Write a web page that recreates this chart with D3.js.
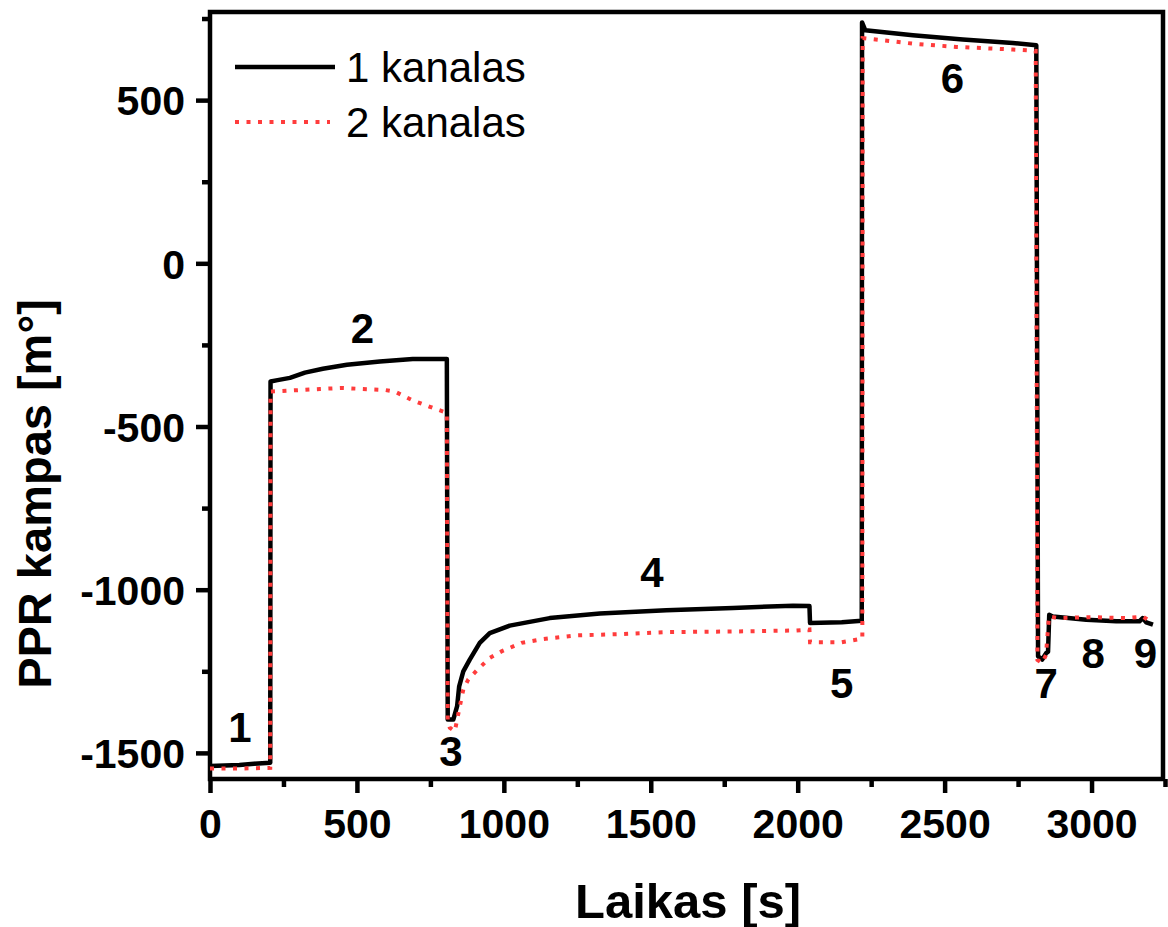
<!DOCTYPE html>
<html>
<head>
<meta charset="utf-8">
<script src="https://cdn.jsdelivr.net/npm/d3@7"></script>
<style>
  html, body { margin: 0; padding: 0; background: #fff; }
  svg { display: block; font-family: "Liberation Sans", Arial, sans-serif; }
</style>
</head>
<body>
<svg id="chart" width="1168" height="927"></svg>
<script>
// ---- Data ----
const seriesNames = ["1 kanalas", "2 kanalas"];

const time1 = [0, 100, 150, 205, 206, 230, 272, 323, 384, 466, 578, 690, 806,
  809, 828, 841, 848, 862, 884, 918, 952, 1020, 1156, 1327, 1553, 1780, 1984, 2040,
  2042, 2150, 2218, 2219, 2230, 2392, 2562, 2732, 2812,
  2818, 2832, 2845, 2852, 2856, 2868, 2982, 3084, 3163, 3174, 3186, 3209];
const value1 = [-1540, -1537, -1533, -1530, -362, -358, -351, -335, -323, -311, -301, -293, -293,
  -1398, -1398, -1357, -1296, -1250, -1214, -1163, -1133, -1110, -1087, -1073, -1063, -1056, -1049, -1050,
  -1102, -1100, -1095, 738, 714, 699, 686, 675, 668,
  -1204, -1214, -1195, -1190, -1077, -1082, -1092, -1097, -1097, -1087, -1100, -1107];

const time2 = [0, 100, 205, 206, 270, 374, 449, 520, 595, 629, 690, 758, 806,
  809, 816, 833, 848, 862, 879, 907, 952, 992, 1060, 1134, 1247, 1395, 1553, 1780, 1996, 2040,
  2042, 2150, 2220, 2221, 2392, 2540, 2732, 2810,
  2816, 2832, 2845, 2855, 2888, 2998, 3115, 3160, 3174, 3200];
const value2 = [-1548, -1548, -1546, -393, -390, -385, -382, -385, -388, -393, -420, -443, -458,
  -1403, -1423, -1434, -1367, -1306, -1275, -1248, -1209, -1189, -1163, -1151, -1140, -1136, -1130, -1128, -1125, -1122,
  -1161, -1161, -1150, 690, 673, 663, 655, 651,
  -1215, -1225, -1200, -1082, -1087, -1084, -1087, -1084, -1082, -1097];

const xTicks = [0, 500, 1000, 1500, 2000, 2500, 3000];
const xMinorTicks = [250, 750, 1250, 1750, 2250, 2750, 3250];
const yTicks = [-1500, -1000, -500, 0, 500];
const yMinorTicks = [-1250, -750, -250, 250, 750];

const stageLabels = ["1", "2", "3", "4", "5", "6", "7", "8", "9"];
const stageTime = [102, 519, 820, 1504, 2150, 2527, 2846, 3006, 3183];
const stageValue = [-1466, -245, -1539, -991, -1331, 522, -1331, -1239, -1239];

const xTitle = "Laikas [s]";
const yTitle = "PPR kampas [m°]";

// ---- Layout ----
const svg = d3.select("#chart");
const mLeft = 210, mRight = 1165, mTop = 12, mBottom = 779;
const fmt = d => String(d);   // plain hyphen-minus like the reference

const x = d3.scaleLinear().domain([0, 3250]).range([mLeft, mRight]);
const y = d3.scaleLinear().domain([-1580, 770]).range([mBottom, mTop]);

// frame
svg.append("rect")
  .attr("x", mLeft).attr("y", mTop)
  .attr("width", 1163 - mLeft).attr("height", mBottom - mTop)
  .attr("fill", "none").attr("stroke", "#000").attr("stroke-width", 4.5);

// x axis
const xAxis = svg.append("g").attr("transform", `translate(0,${mBottom})`)
  .call(d3.axisBottom(x).tickValues(xTicks).tickSize(14).tickFormat(fmt));
xAxis.select(".domain").remove();
xAxis.selectAll(".tick line").attr("stroke-width", 4.5);
xAxis.selectAll(".tick text")
  .attr("font-size", 41).attr("font-weight", "bold").attr("fill", "#000")
  .attr("dy", null).attr("y", 59);
const xMinor = svg.append("g").attr("transform", `translate(0,${mBottom})`)
  .call(d3.axisBottom(x).tickValues(xMinorTicks).tickSize(8).tickFormat(""));
xMinor.select(".domain").remove();
xMinor.selectAll(".tick line").attr("stroke-width", 4.5);

// y axis
const yAxis = svg.append("g").attr("transform", `translate(${mLeft},0)`)
  .call(d3.axisLeft(y).tickValues(yTicks).tickSize(14).tickFormat(fmt));
yAxis.select(".domain").remove();
yAxis.selectAll(".tick line").attr("stroke-width", 4.5);
yAxis.selectAll(".tick text")
  .attr("font-size", 41).attr("font-weight", "bold").attr("fill", "#000")
  .attr("x", -25).attr("dy", "0.36em");
const yMinor = svg.append("g").attr("transform", `translate(${mLeft},0)`)
  .call(d3.axisLeft(y).tickValues(yMinorTicks).tickSize(8).tickFormat(""));
yMinor.select(".domain").remove();
yMinor.selectAll(".tick line").attr("stroke-width", 4.5);

// axis titles
svg.append("text").attr("x", 688).attr("y", 918)
  .attr("text-anchor", "middle").attr("font-size", 49).attr("font-weight", "bold")
  .text(xTitle);
svg.append("text").attr("transform", "translate(51,494) rotate(-90)")
  .attr("text-anchor", "middle").attr("font-size", 47).attr("font-weight", "bold")
  .text(yTitle);

// lines
svg.append("clipPath").attr("id", "clip").append("rect")
  .attr("x", mLeft).attr("y", mTop).attr("width", mRight - mLeft).attr("height", mBottom - mTop);
const line = d3.line().x(d => x(d[0])).y(d => y(d[1]));
const data1 = time1.map((t, i) => [t, value1[i]]);
const data2 = time2.map((t, i) => [t, value2[i]]);

svg.append("path").datum(data1).attr("d", line)
  .attr("fill", "none").attr("stroke", "#000").attr("stroke-width", 4.5)
  .attr("stroke-linejoin", "round").attr("clip-path", "url(#clip)");
svg.append("path").datum(data2).attr("d", line)
  .attr("fill", "none").attr("stroke", "#ff3c3c").attr("stroke-width", 4)
  .attr("stroke-dasharray", "4,7.5").attr("clip-path", "url(#clip)");

// stage labels
svg.append("g").selectAll("text").data(stageLabels).join("text")
  .attr("x", (d, i) => x(stageTime[i]))
  .attr("y", (d, i) => y(stageValue[i]))
  .attr("text-anchor", "middle").attr("font-size", 42).attr("font-weight", "bold")
  .text(d => d);

// legend
const legend = svg.append("g");
const legY = [67, 122];
legend.append("line").attr("x1", 235).attr("x2", 335).attr("y1", legY[0]).attr("y2", legY[0])
  .attr("stroke", "#000").attr("stroke-width", 4.5);
legend.append("line").attr("x1", 235).attr("x2", 330).attr("y1", legY[1]).attr("y2", legY[1])
  .attr("stroke", "#ff3c3c").attr("stroke-width", 4).attr("stroke-dasharray", "4,7.5");
legend.selectAll("text").data(seriesNames).join("text")
  .attr("x", 346).attr("y", (d, i) => legY[i] + 15)
  .attr("font-size", 42).text(d => d);
</script>
</body>
</html>
